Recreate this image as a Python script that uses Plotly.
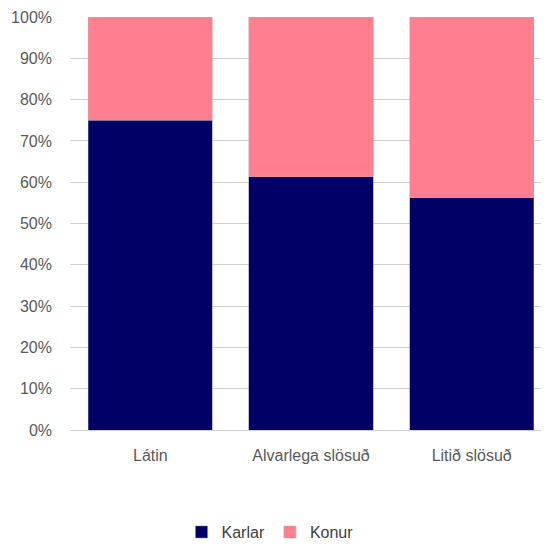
import plotly.graph_objects as go

categories = ["Látin", "Alvarlega slösuð", "Litið slösuð"]
karlar = [0.75, 0.613, 0.562]
konur = [0.25, 0.387, 0.438]

font_fam = "Liberation Sans, Arial, sans-serif"

fig = go.Figure()
fig.add_trace(go.Bar(name="Karlar", x=categories, y=karlar, marker_color="#000066",
                     marker_line=dict(color="#8080a8", width=0.5)))
fig.add_trace(go.Bar(name="Konur", x=categories, y=konur, marker_color="#FF7F8E",
                     marker_line=dict(color="#d0a0a8", width=0.5)))

fig.update_layout(
    barmode="stack",
    bargap=0.228,
    width=544, height=537,
    margin=dict(l=62, r=0, t=9, b=115, autoexpand=False),
    paper_bgcolor="white", plot_bgcolor="white",
    font=dict(family=font_fam, size=16, color="#595959"),
    showlegend=True,
    legend=dict(orientation="h", x=0.415, xanchor="center", y=-0.206, yanchor="top",
                itemwidth=30, font=dict(size=16, color="#404040"), traceorder="normal"),
)
fig.update_yaxes(range=[0, 1], tickformat=".0%", dtick=0.1, showgrid=True,
                 gridcolor="#d0d0d0", gridwidth=1, zeroline=False, showline=False,
                 ticklabelstandoff=17, tickfont=dict(size=16, color="#595959"))
fig.update_xaxes(showline=True, linecolor="#d0d0d0", linewidth=1,
                 tickfont=dict(size=16, color="#595959"), ticklabelstandoff=11)

fig.write_html("out.html")
